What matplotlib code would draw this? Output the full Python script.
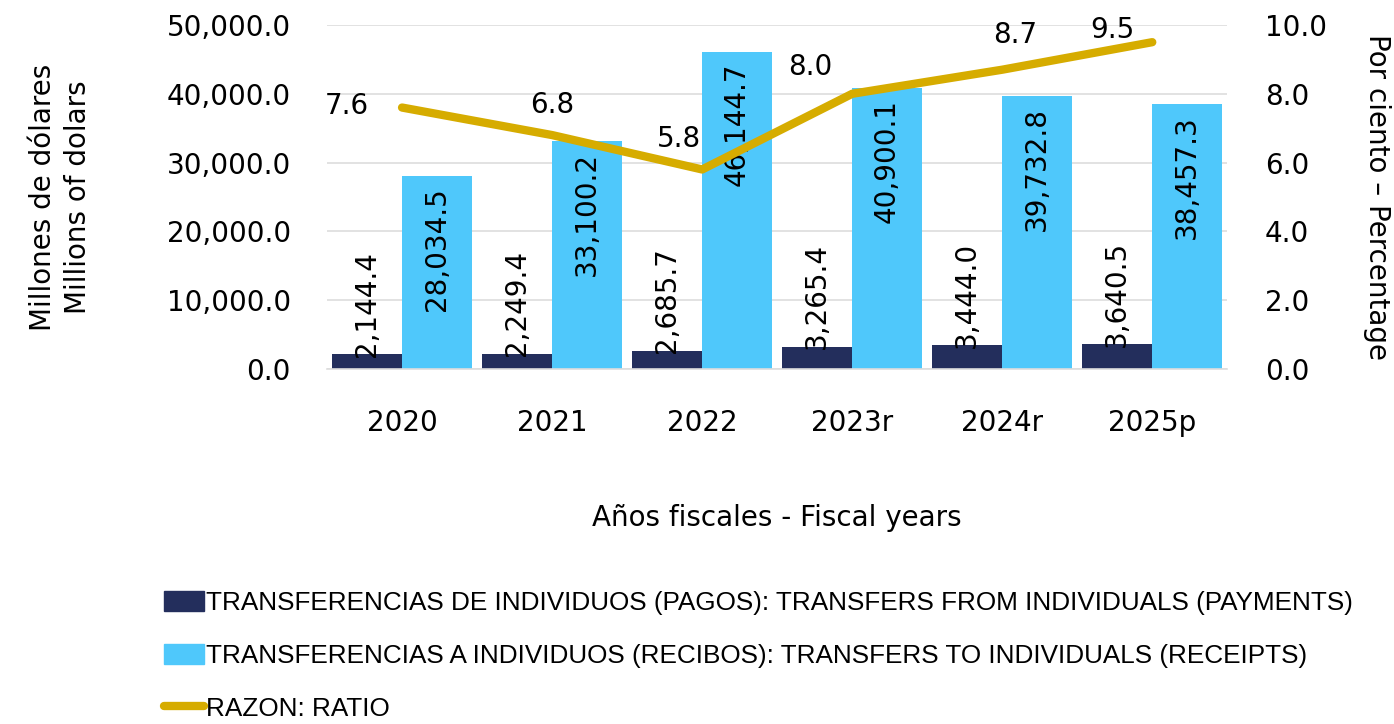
import matplotlib
matplotlib.use("Agg")
import matplotlib.pyplot as plt
import numpy as np
from matplotlib.patches import Patch
from matplotlib.lines import Line2D

# ================== Data ==================
years = ["2020", "2021", "2022", "2023r", "2024r", "2025p"]
pagos = [2144.4, 2249.4, 2685.7, 3265.4, 3444.0, 3640.5]
recibos = [28034.5, 33100.2, 46144.7, 40900.1, 39732.8, 38457.3]
razon = [7.6, 6.8, 5.8, 8.0, 8.7, 9.5]

# label offsets for the ratio values (points)
ratio_offsets = [(-40, 1), (0, 22), (-17, 22), (-30, 19), (9, 25), (-29, 9)]

C_DARK = "#232E5C"
C_LIGHT = "#4FC8FB"
C_GOLD = "#D6AC00"
GRID = "#DDDDDD"
FS = 20

plt.rcParams["font.family"] = ["DejaVu Sans"]

fig = plt.figure(figsize=(13.94, 7.24), dpi=100)
ax = fig.add_axes([0.2346, 0.4903, 0.6458, 0.4752])
ax2 = ax.twinx()

x = np.arange(len(years))
w = 0.465
ax.bar(x - w / 2, pagos, w, color=C_DARK, zorder=2)
ax.bar(x + w / 2, recibos, w, color=C_LIGHT, zorder=2)

ax.set_xlim(-0.5, len(years) - 0.5)
ax.set_ylim(0, 50000)
ax.set_yticks(np.arange(0, 50001, 10000))
ax.set_yticklabels([f"{v:,.1f}" for v in np.arange(0, 50001, 10000)], fontsize=FS)
ax.set_xticks(x)
ax.set_xticklabels(years, fontsize=FS)
ax.tick_params(axis="y", length=0, pad=26)
ax.tick_params(axis="x", length=0, pad=29)
ax.grid(axis="y", color=GRID, linewidth=1.2, zorder=0)
ax.set_axisbelow(True)
for s in ["top", "left", "right"]:
    ax.spines[s].set_visible(False)
ax.spines["bottom"].set_color(GRID)
ax.spines["bottom"].set_linewidth(1.2)

ax.set_xlabel("Años fiscales - Fiscal years", fontsize=FS, labelpad=48)
ax.set_ylabel("Millones de dólares\nMillions of dolars", fontsize=FS, labelpad=54,
              linespacing=1.3)

# bar labels
for xi, v in zip(x, pagos):
    ax.annotate(f"{v:,.1f}", (xi - w / 2, v), xytext=(0, -2), textcoords="offset points",
                rotation=90, ha="center", va="bottom", fontsize=FS, zorder=5)
for xi, v in zip(x, recibos):
    ax.annotate(f"{v:,.1f}", (xi + w / 2, v), xytext=(0, -8), textcoords="offset points",
                rotation=90, ha="center", va="top", fontsize=FS, zorder=5)

# ratio line
ax2.plot(x, razon, color=C_GOLD, linewidth=6, solid_capstyle="round",
         solid_joinstyle="round", zorder=3)
ax2.set_ylim(0, 10)
ax2.set_yticks(np.arange(0, 10.01, 2))
ax2.set_yticklabels([f"{v:.1f}" for v in np.arange(0, 10.01, 2)], fontsize=FS)
ax2.tick_params(axis="y", length=0, pad=27)
for s in ["top", "left", "right", "bottom"]:
    ax2.spines[s].set_visible(False)
ax2.set_ylabel("Por ciento – Percentage", fontsize=FS, rotation=-90, labelpad=46)
for xi, v, off in zip(x, razon, ratio_offsets):
    ax2.annotate(f"{v:.1f}", (xi, v), xytext=off, textcoords="offset points",
                 ha="center", va="center", fontsize=FS)

# legend
handles = [
    Patch(facecolor=C_DARK, edgecolor=C_DARK),
    Patch(facecolor=C_LIGHT, edgecolor=C_LIGHT),
    Line2D([0], [0], color=C_GOLD, linewidth=6, solid_capstyle="round"),
]
labels = [
    "TRANSFERENCIAS DE INDIVIDUOS (PAGOS): TRANSFERS FROM INDIVIDUALS (PAYMENTS)",
    "TRANSFERENCIAS A INDIVIDUOS (RECIBOS): TRANSFERS TO INDIVIDUALS (RECEIPTS)",
    "RAZON: RATIO",
]
fig.legend(handles, labels, loc="upper left", bbox_to_anchor=(0.110, 0.198),
           frameon=False, ncol=1, handlelength=1.55, handleheight=0.8,
           handletextpad=0.05, labelspacing=1.1, borderaxespad=0,
           prop={"family": ["Liberation Sans", "DejaVu Sans"], "size": 18.8})

fig.savefig("out.png", dpi=100)
